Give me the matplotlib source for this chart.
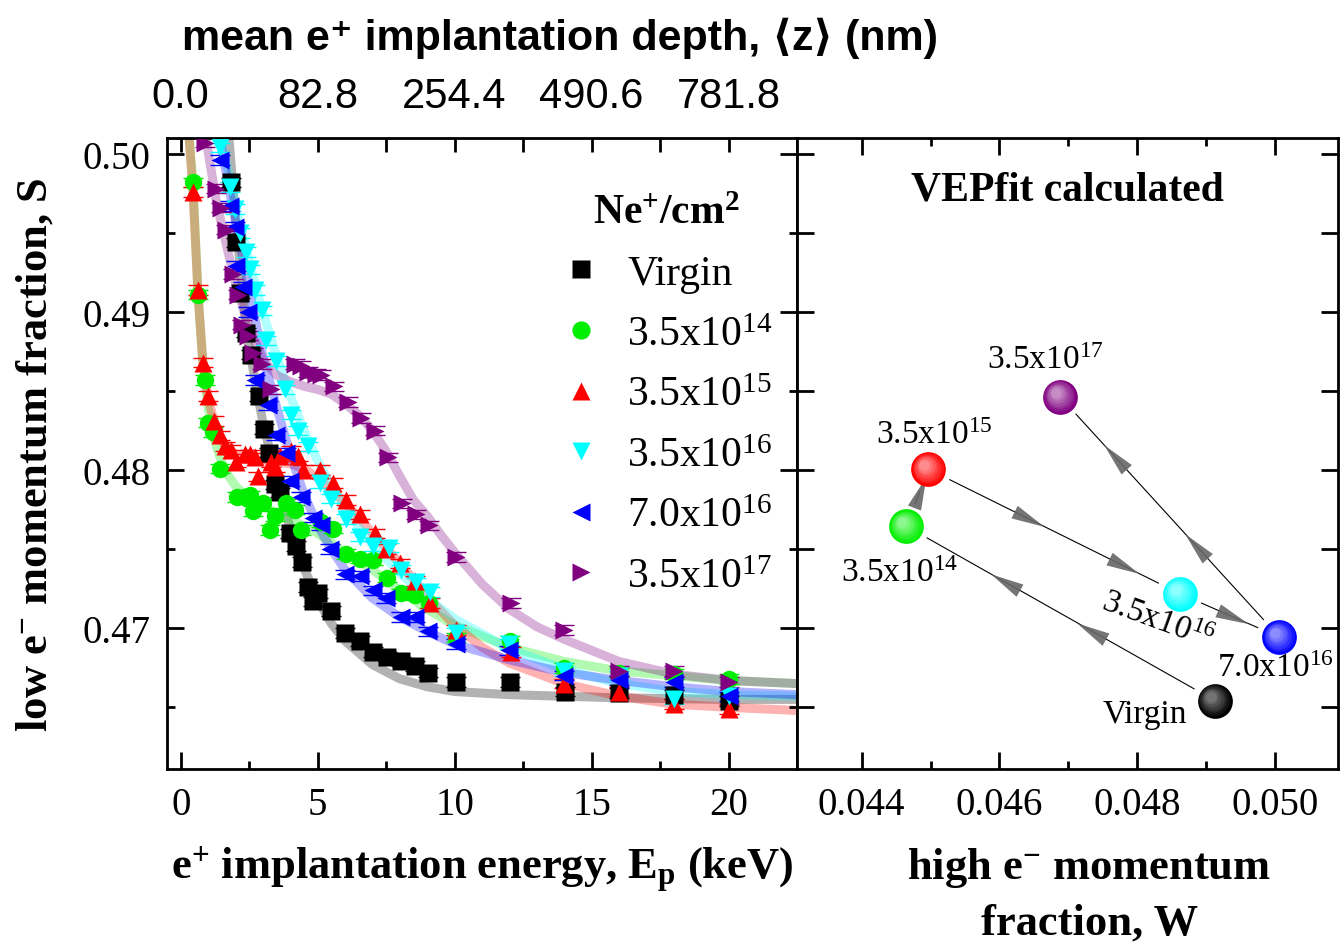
import numpy as np
import matplotlib
matplotlib.use("Agg")
import matplotlib.pyplot as plt
from matplotlib.markers import MarkerStyle
from matplotlib.path import Path
from matplotlib.transforms import Affine2D, offset_copy
from matplotlib.colors import to_rgb

plt.rcParams['font.family'] = ['Liberation Serif', 'DejaVu Serif']
plt.rcParams['mathtext.fontset'] = 'custom'
plt.rcParams['mathtext.rm'] = 'Liberation Serif'
plt.rcParams['mathtext.it'] = 'Liberation Serif:italic'
plt.rcParams['mathtext.bf'] = 'Liberation Serif:bold'

# ---- measured S(E) data -------------------------------------------------
E_virgin = [1.85, 2.03, 2.15, 2.4, 2.58, 2.85, 3.04, 3.21, 3.43, 3.61, 3.98, 4.22, 4.43, 4.65,
            4.83, 5.01, 5.5, 5.99, 6.53, 7.02, 7.53, 8.05, 8.54, 9.03, 10.04, 12.02, 14.03, 16.0, 18.0, 20.0]
S_virgin = [0.4982, 0.4944, 0.4912, 0.4887, 0.4873, 0.4847, 0.4826, 0.4811, 0.4791, 0.4786, 0.4760,
            0.4752, 0.4742, 0.4726, 0.4717, 0.4722, 0.4711, 0.4697, 0.4692, 0.4685, 0.4682, 0.4679,
            0.4676, 0.4672, 0.4666, 0.4666, 0.4660, 0.4659, 0.4658, 0.4654]

E_14 = [0.45, 0.63, 0.88, 1.0, 1.18, 1.42, 2.07, 2.3, 2.52, 2.64, 3.0, 3.25, 3.43, 3.86, 4.16, 4.4,
        5.13, 5.56, 6.05, 6.53, 7.02, 7.53, 8.05, 8.54, 9.05, 10.04, 12.04, 14.0, 16.0, 18.0, 20.0]
S_14 = [0.4982, 0.4911, 0.4857, 0.4830, 0.4824, 0.4801, 0.4783, 0.4783, 0.4784, 0.4774, 0.4779,
        0.4762, 0.4771, 0.4779, 0.4775, 0.4762, 0.4767, 0.4763, 0.4747, 0.4744, 0.4743, 0.4732,
        0.4722, 0.4721, 0.4716, 0.4694, 0.4692, 0.4675, 0.4672, 0.4671, 0.4668]

E_15 = [0.45, 0.63, 0.81, 1.0, 1.22, 1.42, 1.61, 1.85, 2.03, 2.34, 2.52, 2.7, 2.82, 3.31, 3.43, 3.61,
        4.04, 4.28, 4.47, 5.07, 5.56, 6.05, 6.56, 7.08, 7.5, 8.02, 8.54, 9.09, 10.06, 12.07, 14.0,
        16.0, 18.0, 20.0]
S_15 = [0.4976, 0.4914, 0.4868, 0.4847, 0.4831, 0.4822, 0.4815, 0.4813, 0.4805, 0.4810, 0.4810,
        0.4808, 0.4796, 0.4805, 0.4802, 0.4809, 0.4812, 0.4809, 0.4800, 0.4800, 0.4792, 0.4781,
        0.4772, 0.4760, 0.4750, 0.4741, 0.4730, 0.4716, 0.4699, 0.4685, 0.4665, 0.4660, 0.4652, 0.4649]

E_16 = [1.42, 1.79, 1.97, 2.15, 2.4, 2.52, 2.7, 2.95, 3.13, 3.49, 3.8, 4.04, 4.28, 4.65, 5.07, 5.5,
        6.05, 6.53, 7.02, 7.6, 8.05, 8.6, 9.09, 10.06, 12.0, 14.0, 16.0, 18.0, 20.0]
S_16 = [0.5004, 0.4979, 0.4965, 0.4950, 0.4938, 0.4927, 0.4914, 0.4901, 0.4882, 0.4869, 0.4851,
        0.4835, 0.4825, 0.4815, 0.4792, 0.4782, 0.4769, 0.4758, 0.4752, 0.4751, 0.4737, 0.4729,
        0.4723, 0.4697, 0.4690, 0.4673, 0.4670, 0.4655, 0.4657]

E_7e16 = [1.42, 1.79, 1.97, 2.03, 2.27, 2.46, 2.7, 3.19, 3.49, 3.86, 3.98, 4.4, 4.83, 5.13, 5.44,
          5.99, 6.53, 7.02, 7.5, 8.05, 8.54, 9.03, 10.04, 12.0, 14.0, 16.0, 18.0, 20.0]
S_7e16 = [0.4996, 0.4967, 0.4954, 0.4929, 0.4916, 0.4900, 0.4857, 0.4841, 0.4822, 0.4811, 0.4793,
          0.4783, 0.4770, 0.4765, 0.4750, 0.4734, 0.4733, 0.4724, 0.4719, 0.4707, 0.4707, 0.4698,
          0.4690, 0.4686, 0.4670, 0.4667, 0.4666, 0.4657]

E_17 = [0.88, 1.3, 1.48, 1.67, 1.91, 2.09, 2.22, 2.46, 2.64, 2.95, 3.31, 4.16, 4.4, 4.65, 4.95, 5.13,
        5.58, 6.11, 6.59, 7.08, 7.57, 8.09, 8.58, 9.06, 10.06, 12.07, 14.0, 16.0, 18.0, 20.0]
S_17 = [0.5007, 0.4978, 0.4966, 0.4952, 0.4924, 0.4911, 0.4892, 0.4885, 0.4874, 0.4867, 0.4851,
        0.4867, 0.4866, 0.4862, 0.4861, 0.4860, 0.4853, 0.4843, 0.4833, 0.4825, 0.4808, 0.4779,
        0.4772, 0.4765, 0.4745, 0.4716, 0.4699, 0.4673, 0.4673, 0.4666]

S_err = 0.0003

# ---- VEPfit curves --------------------------------------------------------
Ef_virgin = [1.75, 2.0, 2.4, 3.0, 3.5, 4.0, 4.5, 5.0, 5.5, 6.0, 7.0, 8.0, 9.0, 10.0, 12.0, 14.0, 16.0, 20.0, 22.5]
Sf_virgin = [0.5012, 0.4960, 0.4887, 0.4830, 0.4795, 0.4763, 0.4738, 0.4718, 0.4703, 0.4692, 0.4677,
             0.4668, 0.4663, 0.4660, 0.4658, 0.4657, 0.4656, 0.4655, 0.4655]
Ef_14 = [0.3, 0.45, 0.63, 0.8, 1.0, 1.3, 1.6, 2.0, 2.5, 3.0, 3.5, 4.0, 5.0, 6.0, 7.0, 8.0, 9.0, 10.0,
         12.0, 14.0, 16.0, 18.0, 20.0, 22.5]
Sf_14 = [0.5012, 0.4980, 0.4912, 0.4870, 0.4840, 0.4815, 0.4800, 0.4790, 0.4782, 0.4777, 0.4773,
         0.4769, 0.4760, 0.4748, 0.4737, 0.4724, 0.4712, 0.4702, 0.4688, 0.4679, 0.4673, 0.4670,
         0.4667, 0.4665]
Ef_15 = [0.3, 0.45, 0.63, 0.8, 1.0, 1.3, 1.6, 2.0, 2.5, 3.0, 3.5, 4.0, 4.5, 5.0, 5.5, 6.0, 6.5, 7.0,
         7.5, 8.0, 8.5, 9.0, 10.0, 11.0, 12.0, 14.0, 16.0, 18.0, 20.0, 22.5]
Sf_15 = [0.5012, 0.4976, 0.4912, 0.4870, 0.4845, 0.4826, 0.4816, 0.4810, 0.4807, 0.4806, 0.4805,
         0.4804, 0.4801, 0.4795, 0.4788, 0.4779, 0.4770, 0.4760, 0.4751, 0.4741, 0.4731, 0.4720,
         0.4702, 0.4688, 0.4678, 0.4665, 0.4657, 0.4652, 0.4650, 0.4648]
Ef_16 = [1.4, 1.8, 2.2, 2.6, 3.0, 3.5, 4.0, 4.5, 5.0, 5.5, 6.0, 6.5, 7.0, 8.0, 9.0, 10.0, 12.0, 14.0,
         16.0, 18.0, 20.0, 22.5]
Sf_16 = [0.5012, 0.4985, 0.4952, 0.4925, 0.4900, 0.4872, 0.4847, 0.4825, 0.4806, 0.4790, 0.4776,
         0.4764, 0.4753, 0.4735, 0.4719, 0.4706, 0.4687, 0.4674, 0.4665, 0.4660, 0.4658, 0.4657]
Ef_7e16 = [1.4, 1.8, 2.2, 2.6, 3.0, 3.5, 4.0, 4.5, 5.0, 5.5, 6.0, 7.0, 8.0, 9.0, 10.0, 12.0, 14.0,
           16.0, 18.0, 20.0, 22.5]
Sf_7e16 = [0.5012, 0.4975, 0.4940, 0.4905, 0.4872, 0.4840, 0.4810, 0.4785, 0.4765, 0.4750, 0.4737,
           0.4719, 0.4707, 0.4698, 0.4690, 0.4680, 0.4672, 0.4667, 0.4663, 0.4660, 0.4658]
Ef_17 = [0.9, 1.3, 1.7, 2.0, 2.5, 3.0, 3.5, 4.0, 4.5, 5.0, 5.5, 6.0, 6.5, 7.0, 7.5, 8.0, 8.5, 9.0,
         9.5, 10.0, 11.0, 12.0, 13.0, 14.0, 16.0, 18.0, 20.0, 22.5]
Sf_17 = [0.5012, 0.4970, 0.4940, 0.4918, 0.4890, 0.4870, 0.4860, 0.4856, 0.4853, 0.4851, 0.4848,
         0.4842, 0.4835, 0.4825, 0.4812, 0.4796, 0.4781, 0.4771, 0.4759, 0.4748, 0.4728, 0.4712,
         0.4701, 0.4693, 0.4679, 0.4671, 0.4667, 0.4665]

# ---- VEPfit calculated (W, S) points --------------------------------------
calc_names = ["Virgin", "3.5e14", "3.5e15", "3.5e16", "7.0e16", "3.5e17"]
W_calc = [0.04913, 0.04465, 0.04497, 0.04862, 0.05007, 0.04688]
S_calc = [0.46543, 0.47645, 0.48006, 0.47219, 0.46944, 0.48465]

depth_labels = ["0.0", "", "82.8", "", "254.4", "", "490.6", "", "781.8"]

series = [
    (E_virgin, S_virgin, Ef_virgin, Sf_virgin, 's', 'black', "Virgin"),
    (E_14, S_14, Ef_14, Sf_14, 'o', '#00ee00', "3.5x10$^{14}$"),
    (E_15, S_15, Ef_15, Sf_15, '^', 'red', "3.5x10$^{15}$"),
    (E_16, S_16, Ef_16, Sf_16, 'v', 'cyan', "3.5x10$^{16}$"),
    (E_7e16, S_7e16, Ef_7e16, Sf_7e16, '<', 'blue', "7.0x10$^{16}$"),
    (E_17, S_17, Ef_17, Sf_17, '>', 'purple', "3.5x10$^{17}$"),
]

fig = plt.figure(figsize=(13.41, 9.45), dpi=100)
ax = fig.add_axes([167/1341, 1-770/945, (797-167)/1341, (770-139)/945])
ax2 = fig.add_axes([797/1341, 1-770/945, (1338-797)/1341, (770-139)/945])

# fits first, then points
for E, S, Ef, Sf, m, c, lab in series:
    ax.plot(Ef, Sf, color=c, lw=6.5, alpha=0.3, solid_capstyle='butt', zorder=1)
handles = []
for E, S, Ef, Sf, m, c, lab in series:
    h = ax.errorbar(E, S, yerr=S_err, fmt=m, color=c, ms=12.5, mec='none', elinewidth=1,
                    capsize=7, capthick=1, zorder=3, label=lab)
    handles.append(h)

ax.set_xlim(-0.5, 22.5)
ax.set_ylim(0.4611, 0.5010)
ax.set_xticks([0, 5, 10, 15, 20])
ax.set_xticks(np.arange(2.5, 22.5, 5), minor=True)
ax.set_yticks([0.47, 0.48, 0.49, 0.50])
ax.set_yticklabels(["0.47", "0.48", "0.49", "0.50"])
ax.set_yticks([0.465, 0.475, 0.485, 0.495], minor=True)
ax.tick_params(which='both', direction='in', right=True, top=False, width=2, labelsize=28)
ax.tick_params(which='major', length=12, pad=12)
ax.tick_params(which='minor', length=6)
for sp in ax.spines.values():
    sp.set_linewidth(2)

ax.set_xlabel("e$^\\mathbf{+}$ implantation energy, E$_\\mathbf{p}$ (keV)", fontsize=32,
              fontweight='bold', labelpad=15)
ax.set_ylabel("low e$^\\mathbf{-}$ momentum fraction, S", fontsize=32, fontweight='bold',
              labelpad=19)

leg = ax.legend(handles=[h[0] for h in handles], labels=[s[6] for s in series],
                loc='upper left', bbox_to_anchor=(0.565, 0.97), frameon=False, fontsize=30,
                handletextpad=0.6, labelspacing=0.53, handlelength=1.0, markerscale=1.05,
                title="Ne$^\\mathbf{+}$/cm$^\\mathbf{2}$")
leg.get_title().set_fontsize(30)
leg.get_title().set_fontweight('bold')

# top depth axis
axt = ax.twiny()
axt.set_xlim(ax.get_xlim())
axt.set_xticks(np.arange(0, 20.1, 2.5))
axt.set_xticklabels(depth_labels, fontsize=30, family=['Liberation Sans', 'DejaVu Sans'])
axt.tick_params(direction='in', length=10, width=2, pad=16)
fig.text(560/1341, 1-38/945, "mean e\u207a implantation depth, \u27e8z\u27e9 (nm)", ha='center',
         va='center', fontsize=31, fontweight='bold',
         family=['Liberation Sans', 'DejaVu Sans'])

# ---- right panel ----------------------------------------------------------
ax2.set_xlim(0.04306, 0.05092)
ax2.set_ylim(ax.get_ylim())
ax2.set_xticks([0.044, 0.046, 0.048, 0.050])
ax2.set_xticklabels(["0.044", "0.046", "0.048", "0.050"])
ax2.set_xticks([0.045, 0.047, 0.049], minor=True)
ax2.set_yticks(np.arange(0.465, 0.5001, 0.005))
ax2.tick_params(which='both', direction='in', left=True, right=True, top=True,
                labelleft=False, width=2, labelsize=28)
ax2.tick_params(which='major', length=12, pad=12)
ax2.tick_params(which='minor', length=6)
for sp in ax2.spines.values():
    sp.set_linewidth(2)
ax2.set_xlabel("high e$^\\mathbf{-}$ momentum\nfraction, W", fontsize=32, fontweight='bold',
               labelpad=16, linespacing=1.45)
ax2.xaxis.label.set_x(0.54)
ax2.text(0.5, 0.919, "VEPfit calculated", transform=ax2.transAxes, ha='center', va='center',
         fontsize=30, fontweight='bold')

head = Path([(1, 0), (-1, 0.42), (-1, -0.42), (1, 0)],
            [Path.MOVETO, Path.LINETO, Path.LINETO, Path.CLOSEPOLY])


def link(i, j, fracs):
    p = (W_calc[i], S_calc[i])
    q = (W_calc[j], S_calc[j])
    ax2.annotate('', xy=q, xytext=p,
                 arrowprops=dict(arrowstyle='-', color='black', lw=0.8, shrinkA=17, shrinkB=17),
                 zorder=2)
    P = ax2.transData.transform(p)
    Q = ax2.transData.transform(q)
    ang = np.degrees(np.arctan2(Q[1] - P[1], Q[0] - P[0]))
    ms = MarkerStyle(head, transform=Affine2D().rotate_deg(ang))
    for f in fracs:
        ax2.plot(p[0] + f * (q[0] - p[0]), p[1] + f * (q[1] - p[1]), marker=ms, ms=24,
                 color='#666666', mec='none', alpha=0.9, zorder=3)


link(0, 1, [0.4, 0.68])
link(1, 2, [0.6])
link(2, 3, [0.4, 0.78])
link(3, 4, [0.53])
link(4, 5, [0.38, 0.75])

ball_colors = ['black', '#00ee00', 'red', 'cyan', 'blue', 'purple']
for w, s, c in zip(W_calc, S_calc, ball_colors):
    base = np.array(to_rgb(c))
    n = 7
    for k in range(n):
        t = k / (n - 1)
        col = base * (1 - 0.55 * t) + 0.55 * t if c != 'black' else base + 0.45 * t
        col = np.clip(col, 0, 1)
        tr = offset_copy(ax2.transData, fig=fig, x=-4 * t, y=4 * t, units='dots')
        ax2.plot(w, s, 'o', ms=25 * (1 - 0.7 * t), color=col, mec='none', transform=tr, zorder=4)

calc_text = [("Virgin", -70, -13, 0), ("3.5x10$^{14}$", -7, -46, 0), ("3.5x10$^{15}$", 6, 34, 0),
             ("3.5x10$^{16}$", -22, -27, -20), ("7.0x10$^{16}$", -4, -31, 0),
             ("3.5x10$^{17}$", -15, 37, 0)]
for (lab, dx, dy, rot), w, s in zip(calc_text, W_calc, S_calc):
    ax2.annotate(lab, xy=(w, s), xytext=(dx, dy), textcoords='offset pixels', ha='center',
                 va='center', fontsize=24, rotation=rot, zorder=5)

fig.savefig("out.png", dpi=100)
